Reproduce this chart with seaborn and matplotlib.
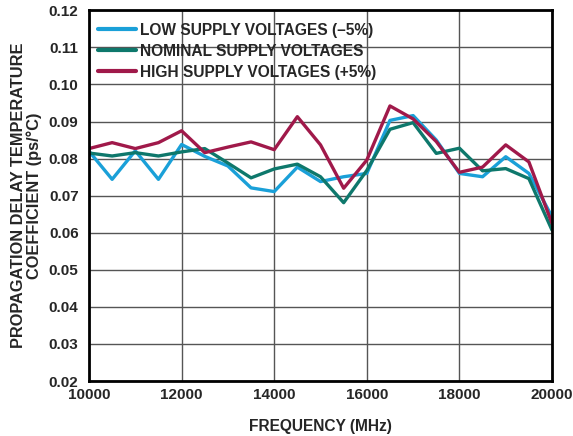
import matplotlib.pyplot as plt
import pandas as pd
import seaborn as sns

# frequency points (MHz)
freq = [10000, 10500, 11000, 11500, 12000, 12500, 13000, 13500, 14000, 14500, 15000,
        15500, 16000, 16500, 17000, 17500, 18000, 18500, 19000, 19500, 20000]

# temperature coefficient (ps/°C)
low = [0.0820, 0.0744, 0.0821, 0.0744, 0.0838, 0.0806, 0.0780, 0.0721, 0.0711, 0.0777, 0.0738,
       0.0751, 0.0760, 0.0903, 0.0916, 0.0850, 0.0760, 0.0751, 0.0805, 0.0760, 0.0643]
nominal = [0.0815, 0.0807, 0.0816, 0.0807, 0.0818, 0.0827, 0.0788, 0.0748, 0.0772, 0.0785, 0.0751,
           0.0681, 0.0768, 0.0879, 0.0897, 0.0814, 0.0828, 0.0767, 0.0773, 0.0746, 0.0607]
high = [0.0827, 0.0843, 0.0827, 0.0843, 0.0875, 0.0816, 0.0831, 0.0845, 0.0824, 0.0913, 0.0837,
        0.0720, 0.0796, 0.0942, 0.0907, 0.0846, 0.0763, 0.0777, 0.0837, 0.0791, 0.0625]

series_names = ["LOW SUPPLY VOLTAGES (–5%)", "NOMINAL SUPPLY VOLTAGES", "HIGH SUPPLY VOLTAGES (+5%)"]
colors = ["#1aa0d8", "#0e786c", "#a0194a"]

df = pd.DataFrame({"freq": freq, series_names[0]: low, series_names[1]: nominal, series_names[2]: high})
long_df = df.melt(id_vars="freq", var_name="series", value_name="coef")

sns.set_theme(style="white")
plt.rcParams["font.family"] = ["Liberation Sans", "DejaVu Sans"]
plt.rcParams["font.weight"] = "bold"

fig = plt.figure(figsize=(5.73, 4.36), dpi=100)
ax = fig.add_axes([0.1553, 0.1261, 0.8081, 0.8503])

sns.lineplot(data=long_df, x="freq", y="coef", hue="series", hue_order=series_names,
             palette=colors, linewidth=2.4, ax=ax)

ax.set_xlim(10000, 20000)
ax.set_ylim(0.02, 0.12)
ax.set_xticks(range(10000, 20001, 2000))
ax.set_yticks([i / 100 for i in range(2, 13)])
ax.set_yticklabels([f"{i / 100:.2f}" for i in range(2, 13)])
ax.tick_params(axis="both", labelsize=11, length=0)
ax.tick_params(axis="y", pad=7.5)
ax.tick_params(axis="x", pad=5)
for lbl in ax.get_xticklabels() + ax.get_yticklabels():
    lbl.set_fontweight("bold")

ax.grid(True, color="#555555", linewidth=1.0)
ax.set_axisbelow(True)
for sp in ax.spines.values():
    sp.set_color("black")
    sp.set_linewidth(2)

ax.set_xlabel("FREQUENCY (MHz)", fontsize=11.2, fontweight="bold", labelpad=12)
ax.set_ylabel("PROPAGATION DELAY TEMPERATURE\nCOEFFICIENT (ps/°C)", fontsize=11.8,
              fontweight="bold", labelpad=5, linespacing=1.0)

leg = ax.legend(loc="upper left", bbox_to_anchor=(-0.007, 1.0), frameon=False, fontsize=11.2,
                handlelength=2.45, handletextpad=0.25, labelspacing=0.38,
                borderaxespad=0.0, borderpad=0.8)
for t in leg.get_texts():
    t.set_fontweight("bold")
for h in leg.get_lines():
    h.set_linewidth(3)

fig.savefig("out.png", dpi=100)
